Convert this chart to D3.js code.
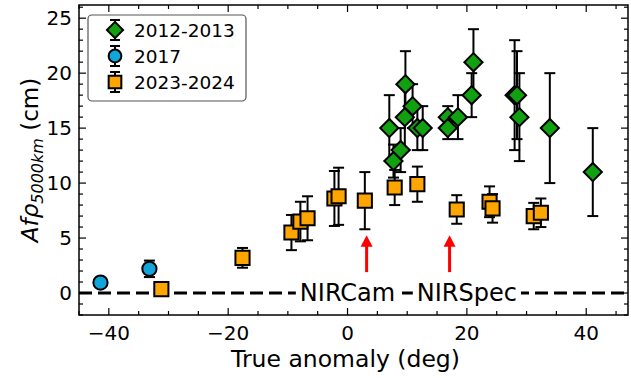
<!DOCTYPE html>
<html><head><meta charset="utf-8">
<script src="https://cdn.jsdelivr.net/npm/d3@7"></script>
<style>body{margin:0;background:#fff}svg{display:block;font-family:"DejaVu Sans",sans-serif}</style>
</head><body><svg id="c" width="631" height="378"></svg>
<script>
// 2012-2013: [true anomaly, Afrho, error]
const ser2012 = [[7.0,15,3],[7.7,12,1.5],[8.9,13,2],[9.6,16,3],[9.7,19,3],[10.9,17,2],[11.7,15,2],[12.6,15,2],
  [16.8,16,1],[16.8,15,1],[18.5,16,2],[20.8,18,2],[21.1,21,3],[28.0,18,5],[28.4,18,4],[28.8,16,4],[33.9,15,5],[41.1,11,4]];
const ser2017 = [[-41.4,0.95,0.15],[-33.2,2.2,0.75]];
const ser2023 = [[-31.2,0.35,0.2],[-17.6,3.2,0.9],[-9.4,5.5,1.6],[-7.9,6.5,1.8],[-6.7,6.8,2.0],[-2.2,8.6,2.5],[-1.5,8.8,2.6],
  [2.9,8.4,2.6],[7.9,9.6,1.6],[11.7,9.9,1.6],[18.3,7.6,1.3],[23.8,8.3,1.4],[24.3,7.7,1.3],[31.2,7.0,1.2],[32.4,7.3,1.3]];
const seriesNames = ["2012-2013","2017","2023-2024"];
const instruments = [["NIRCam",3.2,0],["NIRSpec",17.1,20]]; // name, arrow x, label x
const xTicks = [-40,-20,0,20,40];
const yTicks = [0,5,10,15,20,25];

const svg = d3.select("#c");
const L=79,R=628,T=5,B=315;
const x = d3.scaleLinear().domain([-45,47]).range([L,R]);
const y = d3.scaleLinear().domain([-2,26.2]).range([B,T]);
const colors = ["#10a010","#12a5dc","#ffa500"];
const shapes = [d3.symbolSquare, d3.symbolCircle, d3.symbolSquare];
const sizes = [165, 160, 200];
const rot = [" rotate(45)","",""];
const data = [ser2012, ser2017, ser2023];

// zero line
svg.append("line").attr("x1",L).attr("x2",R).attr("y1",y(0)).attr("y2",y(0))
  .attr("stroke","#000").attr("stroke-width",3).attr("stroke-dasharray","13,6");

// instrument labels with white boxes
instruments.forEach(([name,ax,lx])=>{
  const g = svg.append("g");
  const t = g.append("text").attr("x",x(lx)).attr("y",y(0)).attr("dy","0.35em").attr("text-anchor","middle")
    .attr("font-size",24).text(name);
  const bb = t.node().getBBox();
  g.insert("rect","text").attr("x",bb.x-4).attr("y",bb.y).attr("width",bb.width+8).attr("height",bb.height).attr("fill","#fff");
  svg.append("line").attr("x1",x(ax)).attr("x2",x(ax)).attr("y1",y(1.9)).attr("y2",y(4.3))
    .attr("stroke","red").attr("stroke-width",3);
  svg.append("path").attr("d",`M${x(ax)-6},${y(4.3)+1} L${x(ax)+6},${y(4.3)+1} L${x(ax)},${y(5.25)} Z`).attr("fill","red");
});

// error bars
data.forEach((ser,i)=>{
  const g = svg.append("g").attr("stroke","#000").attr("stroke-width",2);
  ser.forEach(([a,v,e])=>{
    g.append("line").attr("x1",x(a)).attr("x2",x(a)).attr("y1",y(v-e)).attr("y2",y(v+e));
    [v-e,v+e].forEach(c=>g.append("line").attr("x1",x(a)-5.5).attr("x2",x(a)+5.5).attr("y1",y(c)).attr("y2",y(c)));
  });
});
// markers
data.forEach((ser,i)=>{
  const sym = d3.symbol().type(shapes[i]).size(sizes[i]);
  svg.append("g").selectAll("path").data(ser).join("path")
    .attr("transform",d=>`translate(${x(d[0])},${y(d[1])})`+rot[i])
    .attr("d",sym).attr("fill",colors[i]).attr("stroke","#000").attr("stroke-width",2);
});

// axes frame and ticks
const ax = svg.append("g");
ax.append("rect").attr("x",L).attr("y",T).attr("width",R-L).attr("height",B-T).attr("fill","none").attr("stroke","#000").attr("stroke-width",1.5);
const xMinor = d3.range(-45,48,5), yMinor = d3.range(-2,27,1);
const tk = ax.append("g").attr("stroke","#000").attr("stroke-width",1.2);
xMinor.forEach(v=>{const len = xTicks.includes(v)?7:4;
  tk.append("line").attr("x1",x(v)).attr("x2",x(v)).attr("y1",B).attr("y2",B-len);
  tk.append("line").attr("x1",x(v)).attr("x2",x(v)).attr("y1",T).attr("y2",T+len);});
yMinor.forEach(v=>{const len = yTicks.includes(v)?7:4;
  tk.append("line").attr("y1",y(v)).attr("y2",y(v)).attr("x1",L).attr("x2",L+len);
  tk.append("line").attr("y1",y(v)).attr("y2",y(v)).attr("x1",R).attr("x2",R-len);});
xTicks.forEach(v=>ax.append("text").attr("x",x(v)).attr("y",B+25).attr("text-anchor","middle").attr("font-size",20)
  .text(v<0?"\u2212"+Math.abs(v):v));
yTicks.forEach(v=>ax.append("text").attr("x",L-7).attr("y",y(v)).attr("dy","0.36em").attr("text-anchor","end").attr("font-size",20).text(v));

// axis labels
svg.append("text").attr("x",(L+R)/2-8).attr("y",367).attr("text-anchor","middle").attr("font-size",23.5).text("True anomaly (deg)");
const yl = svg.append("text").attr("transform",`translate(38,${(T+B)/2}) rotate(-90)`).attr("text-anchor","middle").attr("font-size",23);
yl.append("tspan").attr("font-style","italic").text("Af\u03C1");
yl.append("tspan").attr("font-style","italic").attr("font-size",16).attr("dy",5).text("5000km");
yl.append("tspan").attr("dy",-5).text(" (cm)");

// legend
const lg = svg.append("g");
lg.append("rect").attr("x",88).attr("y",15).attr("width",158).attr("height",86).attr("rx",4)
  .attr("fill","#fff").attr("stroke","#555").attr("stroke-width",1.2);
seriesNames.forEach((n,i)=>{
  const cy = 30+i*26, cx=115;
  const g = lg.append("g").attr("stroke","#000").attr("stroke-width",2);
  g.append("line").attr("x1",cx).attr("x2",cx).attr("y1",cy-10).attr("y2",cy+10);
  [cy-10,cy+10].forEach(c=>g.append("line").attr("x1",cx-5).attr("x2",cx+5).attr("y1",c).attr("y2",c));
  lg.append("path").attr("transform",`translate(${cx},${cy})`+rot[i]).attr("d",d3.symbol().type(shapes[i]).size(i===0?130:sizes[i]*0.8)())
    .attr("fill",colors[i]).attr("stroke","#000").attr("stroke-width",2);
  lg.append("text").attr("x",134).attr("y",cy).attr("dy","0.36em").attr("font-size",18.5).text(n);
});
</script></body></html>
